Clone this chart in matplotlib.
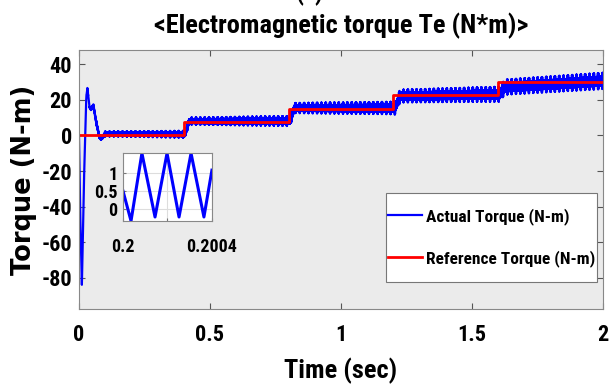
import numpy as np
import matplotlib.pyplot as plt
from matplotlib import font_manager
from matplotlib.patches import Rectangle

avail = set(f.name for f in font_manager.fontManager.ttflist)
prefs = ['Liberation Sans Narrow', 'Arial Narrow', 'Roboto Condensed', 'Archivo Narrow',
         'Barlow Semi Condensed', 'Liberation Sans']
font = next(p for p in prefs + ['DejaVu Sans'] if p in avail)
plt.rcParams['font.family'] = [font, 'DejaVu Sans']
plt.rcParams['font.weight'] = 'bold'
plt.rcParams['axes.unicode_minus'] = False

# reference torque steps (N-m)
ref_t = [0, 0.4, 0.4, 0.8, 0.8, 1.2, 1.2, 1.6, 1.6, 2.0]
ref_v = [0, 0, 7.5, 7.5, 15, 15, 22.5, 22.5, 30, 30]

# actual torque: start-up transient and mean level
act_t = [0, 0.004, 0.011, 0.02, 0.028, 0.032, 0.04, 0.046, 0.055, 0.065, 0.078, 0.087, 0.1,
         0.405, 0.42, 0.8, 0.805, 0.822, 1.2, 1.205, 1.225, 1.6, 1.605, 1.625, 2.0]
act_v = [0, -40, -84, -20, 22, 26.5, 16, 14.5, 17, 8, -1, -1.5, 0.8,
         0.6, 8, 8, 8, 15.3, 15.3, 15, 22, 23, 23, 27, 30.5]

# ripple half-width of the actual torque band
rip_t = [0, 0.1, 0.4, 0.8, 1.2, 1.6, 2.0]
rip_a = [0, 0.8, 1.1, 1.6, 2.0, 2.4, 2.6]
rip_period = 0.0011
spike_period = 0.0165

# inset: zoom on the ripple around t = 0.2 s
ins_t = [0.2, 0.200036, 0.200085, 0.200144, 0.200198, 0.200252, 0.200306, 0.200364, 0.2004]
ins_v = [0.5, -0.33, 1.55, -0.22, 1.55, -0.22, 1.55, -0.22, 1.08]

t = np.linspace(0, 2, 60001)
base = np.interp(t, act_t, act_v)
amp = np.interp(t, rip_t, rip_a)
phase = (t / rip_period) % 1.0
tri = 4 * np.abs(phase - 0.5) - 1
sp = (t / spike_period) % 1.0
spike = 1 + 0.8 * (sp < 0.15)
actual = base + amp * spike * tri

fig = plt.figure(figsize=(6.09, 3.89), dpi=100)
ax = fig.add_axes([0.1297, 0.2057, 0.8606, 0.6658])
ax.set_facecolor('#ebebeb')
ax.plot(t, actual, color='blue', lw=1.6, label='Actual Torque (N-m)')
ax.plot(ref_t, ref_v, color='red', lw=2.0, label='Reference Torque (N-m)')
ax.set_xlim(0, 2)
ax.set_ylim(-97.5, 48)
ax.set_xticks([0, 0.5, 1, 1.5, 2])
ax.set_xticklabels(['0', '0.5', '1', '1.5', '2'])
ax.set_yticks([-80, -60, -40, -20, 0, 20, 40])
ax.tick_params(direction='in', top=True, right=True, labelsize=16, length=4,
               color='#555555')
ax.tick_params(axis='x', pad=11)
ax.tick_params(axis='y', pad=5)
for s in ax.spines.values():
    s.set_color('#888888')
ax.set_xlabel('Time (sec)', fontsize=19, fontweight='bold', labelpad=8)
ax.set_ylabel('Torque (N-m)', fontsize=18.5, fontweight='bold', labelpad=3,
              family=['DejaVu Sans'])
ax.set_title('<Electromagnetic torque Te (N*m)>', fontsize=19, fontweight='bold', pad=12)
fig.text(0.508, 1.018, '(a)', ha='center', va='center', fontsize=18, fontweight='bold')

# legend frame drawn as a box, entries placed inside it
ax.add_patch(Rectangle((0.586, 0.104), 0.403, 0.344, transform=ax.transAxes,
                       facecolor='white', edgecolor='#777777', lw=0.8, zorder=4))
leg = ax.legend(loc='center left', bbox_to_anchor=(0.589, 0.276),
                fontsize=12.5, frameon=False, handlelength=2.0,
                handletextpad=0.2, labelspacing=1.45, borderpad=0, borderaxespad=0)
leg.set_zorder(5)
for txt in leg.get_texts():
    txt.set_fontweight('bold')

ins = fig.add_axes([0.202, 0.432, 0.146, 0.175])
ins.set_facecolor('white')
ins.plot(ins_t, ins_v, color='blue', lw=2.2)
ins.set_xlim(0.2, 0.2004)
ins.set_ylim(-0.33, 1.56)
ins.set_xticks([0.2, 0.2002, 0.2004])
ins.set_xticklabels(['0.2', '', '0.2004'])
ins.set_yticks([0, 0.5, 1])
ins.set_yticklabels(['0', '0.5', '1'])
ins.grid(True, color='#dddddd', lw=0.8)
ins.tick_params(direction='in', labelsize=13, length=2, color='#777777', pad=4)
ins.tick_params(axis='x', pad=12)
for s in ins.spines.values():
    s.set_color('#888888')

fig.savefig('out.png', dpi=100)
